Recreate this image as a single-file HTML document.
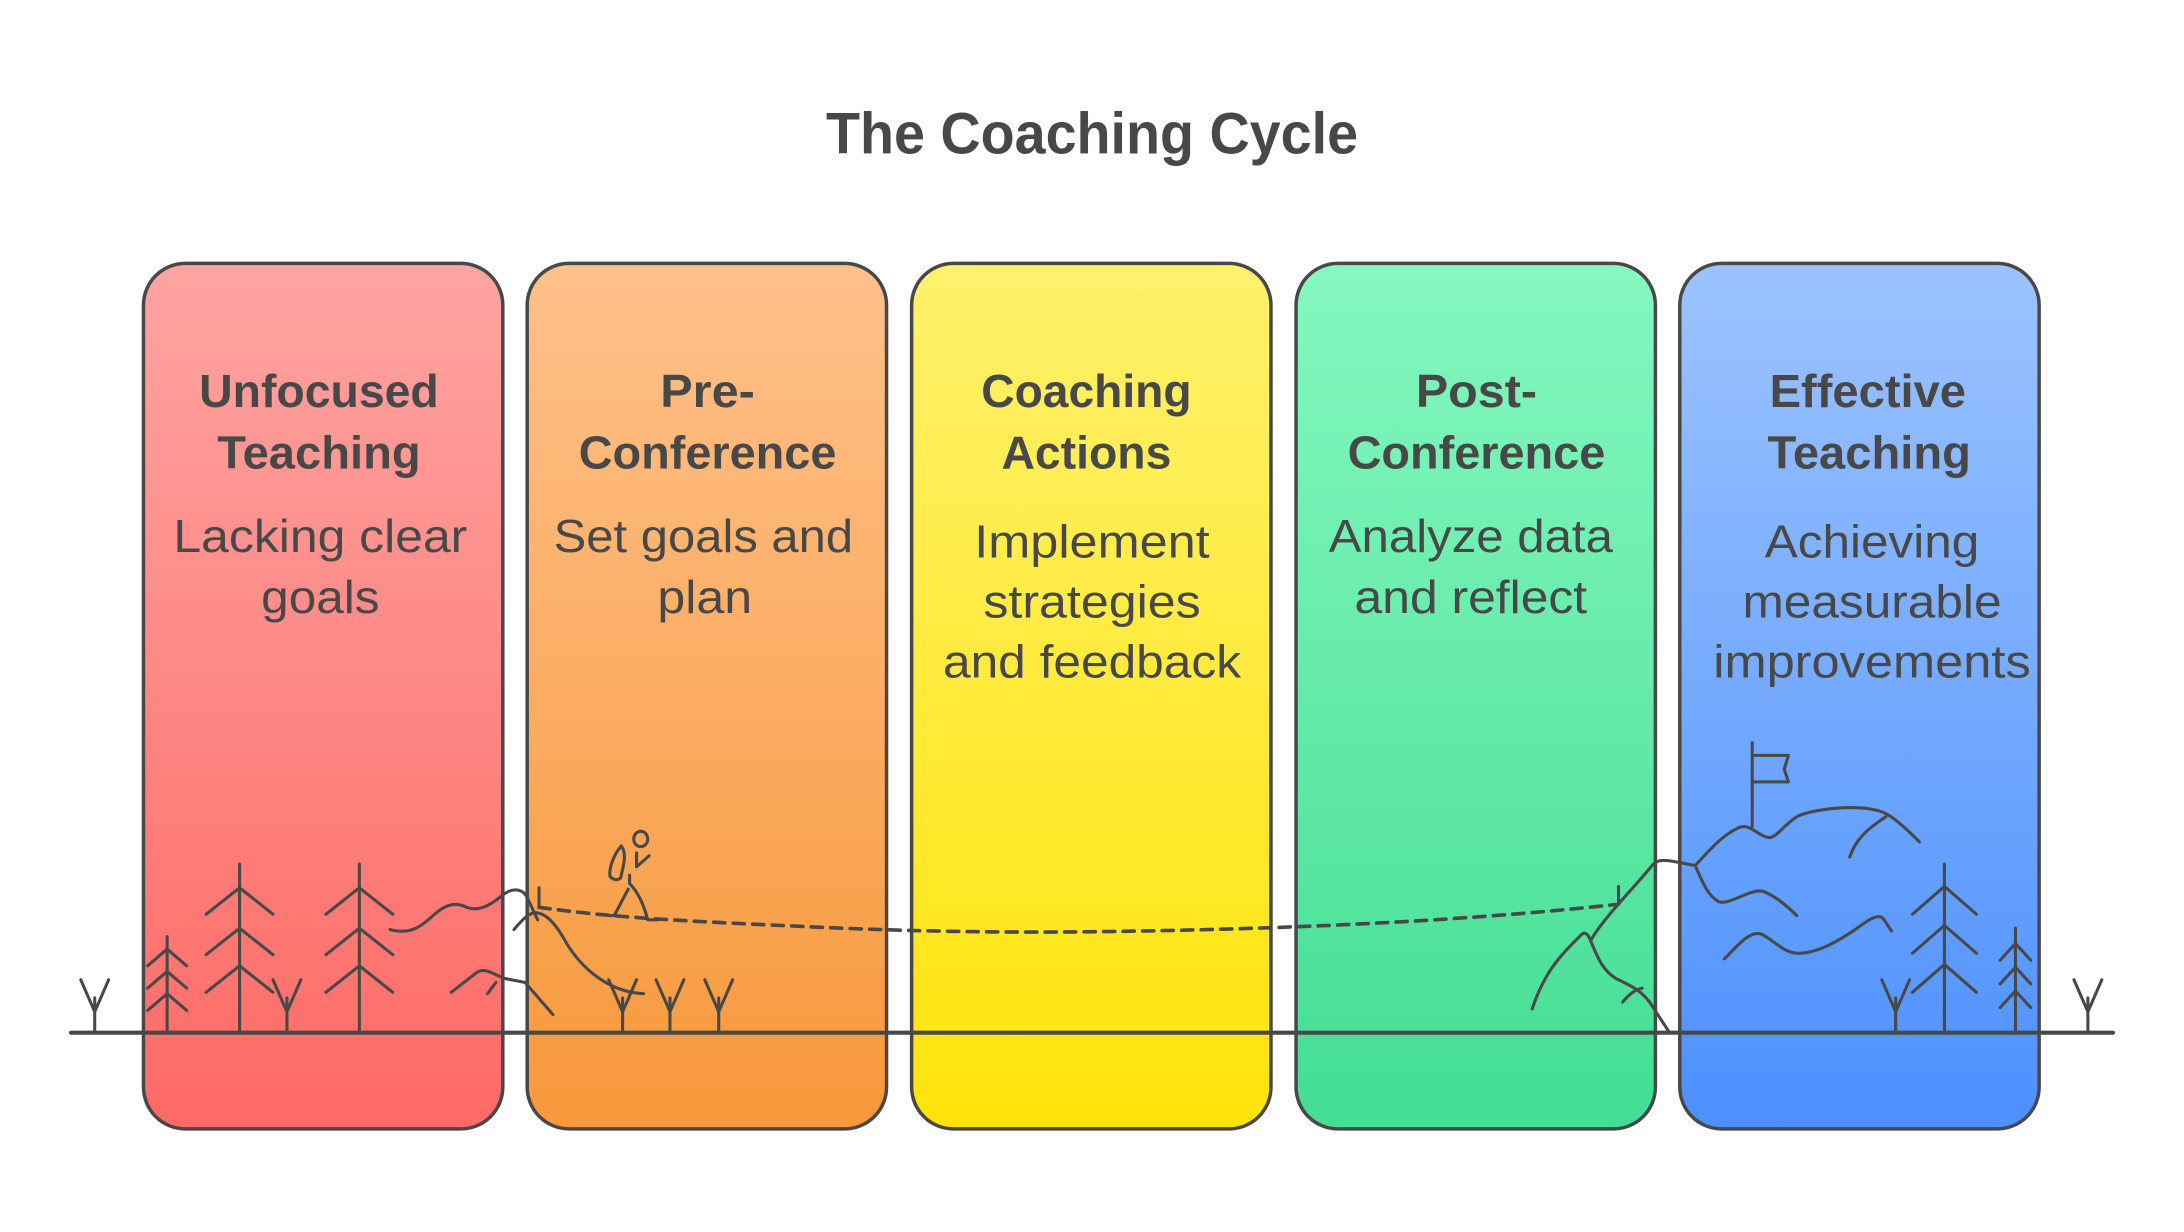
<!DOCTYPE html>
<html><head><meta charset="utf-8"><style>
html,body{margin:0;padding:0;background:#fff;}
svg{display:block;}
text{font-family:"Liberation Sans",sans-serif;fill:#484848;}
.t{font-weight:bold;font-size:33px;}
.d{font-size:33px;}
</style></head><body>
<svg width="2184" height="1232" viewBox="0 0 1568 884" preserveAspectRatio="none" xmlns="http://www.w3.org/2000/svg">
<defs>
<linearGradient id="g1" x1="0" y1="0" x2="0" y2="1"><stop offset="0" stop-color="#ffa4a1"/><stop offset="1" stop-color="#fe6a66"/></linearGradient>
<linearGradient id="g2" x1="0" y1="0" x2="0" y2="1"><stop offset="0" stop-color="#ffc18b"/><stop offset="1" stop-color="#f7983a"/></linearGradient>
<linearGradient id="g3" x1="0" y1="0" x2="0" y2="1"><stop offset="0" stop-color="#fff16c"/><stop offset="1" stop-color="#ffe40a"/></linearGradient>
<linearGradient id="g4" x1="0" y1="0" x2="0" y2="1"><stop offset="0" stop-color="#85f8bf"/><stop offset="1" stop-color="#43dd93"/></linearGradient>
<linearGradient id="g5" x1="0" y1="0" x2="0" y2="1"><stop offset="0" stop-color="#9cc3ff"/><stop offset="1" stop-color="#4c90fe"/></linearGradient>
</defs>
<text x="784" y="110" text-anchor="middle" style="font-weight:bold;font-size:42px" textLength="382" lengthAdjust="spacingAndGlyphs">The Coaching Cycle</text>
<g stroke="#484848" stroke-width="2.5">
<rect x="103" y="189" width="258" height="621" rx="30" fill="url(#g1)"/>
<rect x="378.5" y="189" width="258" height="621" rx="30" fill="url(#g2)"/>
<rect x="654.5" y="189" width="258" height="621" rx="30" fill="url(#g3)"/>
<rect x="930.5" y="189" width="258" height="621" rx="30" fill="url(#g4)"/>
<rect x="1206" y="189" width="258" height="621" rx="30" fill="url(#g5)"/>
</g>
<g text-anchor="middle">
<text class="t" x="229" y="292" textLength="172" lengthAdjust="spacingAndGlyphs">Unfocused</text>
<text class="t" x="229" y="336" textLength="146" lengthAdjust="spacingAndGlyphs">Teaching</text>
<text class="d" x="230" y="396" textLength="211" lengthAdjust="spacingAndGlyphs">Lacking clear</text>
<text class="d" x="230" y="440" textLength="85" lengthAdjust="spacingAndGlyphs">goals</text>

<text class="t" x="508" y="292" textLength="68" lengthAdjust="spacingAndGlyphs">Pre-</text>
<text class="t" x="508" y="336" textLength="185" lengthAdjust="spacingAndGlyphs">Conference</text>
<text class="d" x="505" y="396" textLength="215" lengthAdjust="spacingAndGlyphs">Set goals and</text>
<text class="d" x="506" y="440" textLength="68" lengthAdjust="spacingAndGlyphs">plan</text>

<text class="t" x="780" y="292" textLength="151" lengthAdjust="spacingAndGlyphs">Coaching</text>
<text class="t" x="780" y="336" textLength="122" lengthAdjust="spacingAndGlyphs">Actions</text>
<text class="d" x="784" y="400" textLength="169" lengthAdjust="spacingAndGlyphs">Implement</text>
<text class="d" x="784" y="443" textLength="156" lengthAdjust="spacingAndGlyphs">strategies</text>
<text class="d" x="784" y="486" textLength="214" lengthAdjust="spacingAndGlyphs">and feedback</text>

<text class="t" x="1060" y="292" textLength="87" lengthAdjust="spacingAndGlyphs">Post-</text>
<text class="t" x="1060" y="336" textLength="185" lengthAdjust="spacingAndGlyphs">Conference</text>
<text class="d" x="1056" y="396" textLength="204" lengthAdjust="spacingAndGlyphs">Analyze data</text>
<text class="d" x="1056" y="440" textLength="167" lengthAdjust="spacingAndGlyphs">and reflect</text>

<text class="t" x="1341" y="292" textLength="141" lengthAdjust="spacingAndGlyphs">Effective</text>
<text class="t" x="1342" y="336" textLength="146" lengthAdjust="spacingAndGlyphs">Teaching</text>
<text class="d" x="1344" y="400" textLength="154" lengthAdjust="spacingAndGlyphs">Achieving</text>
<text class="d" x="1344" y="443" textLength="186" lengthAdjust="spacingAndGlyphs">measurable</text>
<text class="d" x="1344" y="486" textLength="228" lengthAdjust="spacingAndGlyphs">improvements</text>
</g>
<g fill="none" stroke="#484848" stroke-width="2.2" stroke-linecap="round" stroke-linejoin="round">
<!-- ground -->
<line x1="51" y1="741" x2="1517" y2="741" stroke-width="3"/>
<!-- tufts -->
<path d="M68 741V716M58 703L68 726L78 703"/>
<path d="M206 741V716M196 703L206 726L216 703"/>
<path d="M447 741V716M437 703L447 726L457 703"/>
<path d="M481 741V716M471 703L481 726L491 703"/>
<path d="M516 741V716M506 703L516 726L526 703"/>
<path d="M1361 741V716M1351 703L1361 726L1371 703"/>
<path d="M1499 741V716M1489 703L1499 726L1509 703"/>
<!-- small tree left -->
<path d="M120 741V672M106 693L120 681L134 693M106 709L120 697L134 709M106 725L120 713L134 725"/>
<!-- big trees left -->
<path d="M172 741V620M148 656L172 637L196 656M148 685L172 666L196 685M148 712L172 693L196 712"/>
<path d="M258 741V620M234 656L258 637L282 656M234 685L258 666L282 685M234 712L258 693L282 712"/>
<!-- hills left -->
<path d="M280 667C295 671 302 665 312 656C320 649 327 647 335 651C343 654 350 651 360 643C367 637 374 637 378 643L386 660"/>
<path d="M369 667C375 660 380 654 386 655C392 656 398 662 404 672C418 698 440 712 462 713"/>
<path d="M324 712L342 698C348 694 352 698 362 702L377 705L397 728"/>
<path d="M350 713L356 705"/>
<path d="M387 637V651"/>
<!-- hiker -->
<ellipse cx="460" cy="602" rx="5" ry="5.5"/>
<path d="M446 607C440 614 437 624 438 629C441 632 446 632 446 628C448 620 450 612 446 607Z"/>
<path d="M457 612V622L466 614"/>
<path d="M452 628V634C458 640 462 648 465 660L472 660"/>
<path d="M451 638L441 657L437 657"/>
<!-- dashed path -->
<path d="M387 651C430 657 470 660 560 664C640 668 720 670 820 668C940 666 1060 660 1160 649" stroke-dasharray="8 6" stroke-width="2.6"/>
<!-- right mountain -->
<path d="M1162 636V649"/>
<path d="M1100 724C1108 700 1118 688 1130 676L1135 671C1138 668 1140 670 1142 675C1150 660 1175 635 1187 620C1192 615 1200 618 1217 621C1225 613 1235 600 1248 594C1256 590 1262 600 1270 601C1276 601 1282 590 1292 585C1300 582 1320 578 1340 580C1352 582 1356 582 1378 604"/>
<path d="M1142 675C1148 690 1152 697 1160 702C1170 707 1178 710 1185 720L1198 740"/>
<path d="M1165 719C1170 713 1174 710 1179 709"/>
<path d="M1258 593V533M1258 542H1284L1281 552L1284 561H1258"/>
<path d="M1354 586C1340 595 1332 603 1328 615"/>
<path d="M1217 621C1222 632 1226 643 1234 647C1242 650 1258 636 1267 640C1276 644 1283 650 1290 657"/>
<path d="M1238 688C1248 678 1256 668 1264 670C1272 673 1280 684 1291 684C1305 684 1320 675 1332 667C1340 661 1348 655 1352 659L1358 668"/>
<!-- right trees -->
<path d="M1396 741V620M1373 656L1396 636L1419 656M1373 684L1396 664L1419 684M1373 712L1396 692L1419 712"/>
<path d="M1447 741V666M1436 689L1447 677L1458 689M1436 706L1447 694L1458 706M1436 723L1447 711L1458 723"/>
</g>
</svg>
</body></html>
